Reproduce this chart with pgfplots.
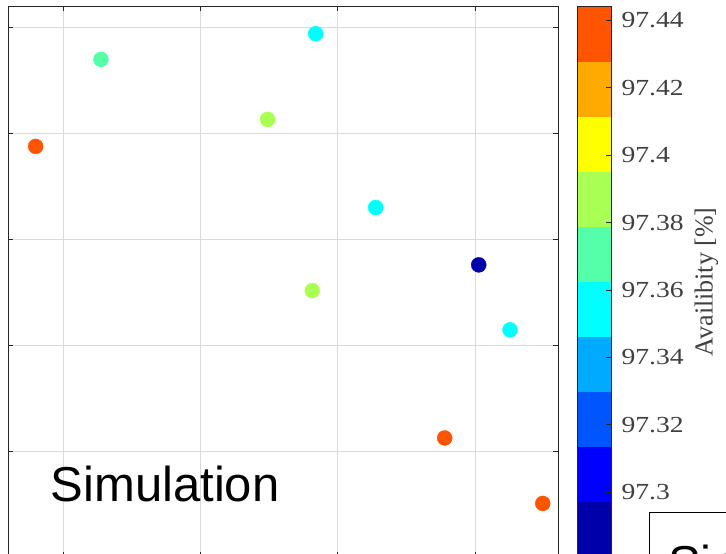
\documentclass[border=0pt]{standalone}
\usepackage{pgfplots}
\pgfplotsset{compat=1.18}
\usepackage{fontspec}
\setmainfont{Liberation Serif}
\newfontfamily\arialfont{Liberation Sans}
\newfontfamily\tickfont[FakeStretch=1.2]{Liberation Serif}
\definecolor{axgray}{RGB}{38,38,38}
\definecolor{txtgray}{RGB}{64,64,64}
\definecolor{gridgray}{RGB}{218,218,218}
\begin{document}
\begin{tikzpicture}[x=1pt,y=1pt]
\useasboundingbox (0,0) rectangle (726,-554);
\clip (0,0) rectangle (726,-554);
\begin{axis}[
  at={(6.0,-6)}, anchor=north west,
  scale only axis, width=550pt, height=551pt,
  xmin=0.5995, xmax=4.604, ymin=0, ymax=5.201,
  xtick={1,2,3,4}, ytick={1,2,3,4,5},
  xticklabels={}, yticklabels={},
  grid=major, major grid style={draw=gridgray, line width=0.9pt},
  tick align=inside, major tick length=5pt,
  tick style={draw=axgray, line width=0.9pt},
  axis line style={draw=axgray, line width=0.9pt},
  colormap={jetten}{rgb255=(0,0,170) rgb255=(0,0,255) rgb255=(0,85,255) rgb255=(0,170,255) rgb255=(0,255,255) rgb255=(85,255,170) rgb255=(170,255,85) rgb255=(255,255,0) rgb255=(255,170,0) rgb255=(255,85,0)},
  colormap access=piecewise constant,
  point meta min=97.2807, point meta max=97.4442,
  colorbar,
  colorbar style={
    at={(parent axis.north east)}, anchor=north west, xshift=10.6pt,
    scale only axis, width=33.7pt, height=551pt,
    ytick={97.3,97.32,97.34,97.36,97.38,97.4,97.42,97.44},
    ytick pos=right, tick align=inside, major tick length=5pt,
    tick style={draw=axgray, line width=0.9pt},
    axis line style={draw=axgray, line width=0.9pt},
    /pgf/number format/assume math mode=true,
    /pgf/number format/fixed, /pgf/number format/precision=2,
    yticklabel style={font=\tickfont\fontsize{23}{23}\selectfont, text=txtgray, xshift=7pt},
    ylabel={Availibity [\%]}, ylabel shift=4pt,
    ylabel style={font=\fontsize{26}{26}\selectfont, text=txtgray},
  },
]
\addplot[scatter, only marks, mark=*, mark size=7.5pt,
  scatter/use mapped color={draw=mapped color, fill=mapped color},
  point meta=explicit] table[meta=c] {
x y c
0.799 3.879 97.436
1.2745 4.700 97.371
2.488 4.134 97.387
2.838 4.943 97.354
3.275 3.302 97.354
4.025 2.761 97.289
2.813 2.518 97.387
4.253 2.147 97.354
3.777 1.127 97.436
4.491 0.509 97.436
};
\end{axis}
\node[anchor=base west, inner sep=0, font=\arialfont\fontsize{49}{49}\selectfont] at (50.5,-501.7) {Simulation};
\draw[line width=1.2pt, black] (649.3,-512.7) rectangle (900,-700);
\node[anchor=base west, inner sep=0, font=\arialfont\fontsize{49}{49}\selectfont] at (668,-580) {Simulation};
\end{tikzpicture}
\end{document}
